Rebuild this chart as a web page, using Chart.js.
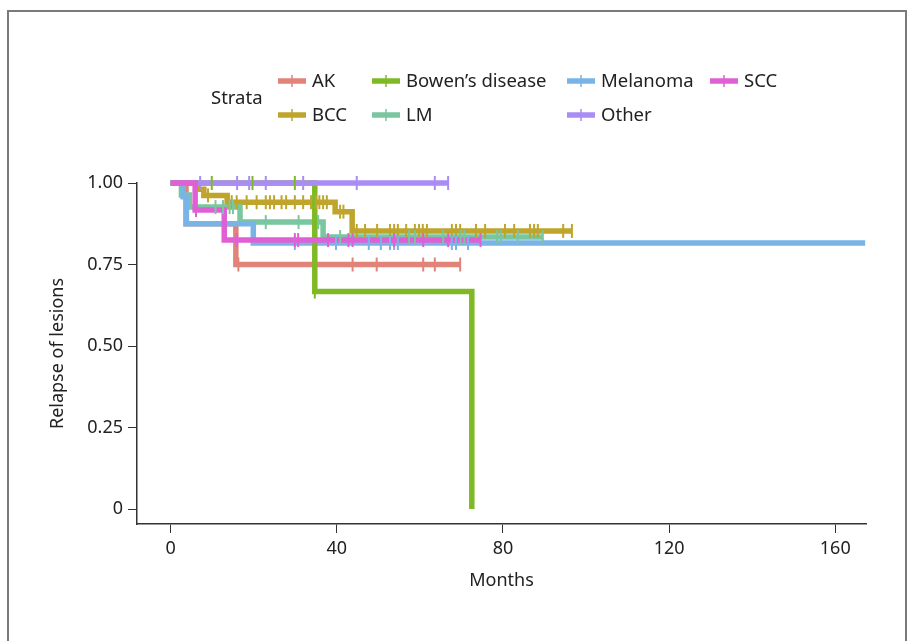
<!DOCTYPE html>
<html>
<head>
<meta charset="utf-8">
<script src="https://cdn.jsdelivr.net/npm/chart.js@4.4.1/dist/chart.umd.min.js"></script>
<style>
  html, body { margin: 0; padding: 0; background: #fff; }
  #wrap { position: relative; width: 912px; height: 641px; }
</style>
</head>
<body>
<div id="wrap"><canvas id="km" width="912" height="641"></canvas></div>
<script>
// strata and their colours
const strata = ["AK", "BCC", "Bowen’s disease", "LM", "Melanoma", "Other", "SCC"];
const colors = ["#E2837A", "#BFA52B", "#7FBA26", "#79C6A0", "#78B4E6", "#A98CF4", "#DF60D4"];

// step curves (time in months, survival after that time)
const akTime = [0, 3.7, 15.7, 69.7];
const akSurv = [1, 0.875, 0.75, 0.75];
const akCens = [16.3, 43.8, 49.6, 60.8, 63.6, 69.7];

const bccTime = [0, 6.5, 8.0, 13.6, 39.6, 43.7, 96.6];
const bccSurv = [1, 0.981, 0.962, 0.941, 0.912, 0.853, 0.853];
const bccCens = [9.0, 14.0, 14.7, 15.9, 18.3, 20.7, 22.9, 23.9, 24.9, 26.7, 27.8, 29.9, 31.9, 33.8, 35.0, 35.8,
                 36.7, 37.6, 40.8, 41.6, 44.8, 46.8, 49.7, 52.8, 53.8, 54.7, 56.7, 58.8, 59.8, 60.7, 61.7,
                 67.7, 68.7, 69.7, 73.5, 75.7, 80.5, 82.7, 86.5, 87.5, 88.4, 94.5, 96.6];

const bowTime = [0, 34.7, 72.5];
const bowSurv = [1, 0.667, 0];
const bowCens = [9.9, 19.7, 29.9, 34.7];

const lmTime = [0, 2.6, 4.5, 16.7, 36.7, 89.6];
const lmSurv = [1, 0.963, 0.926, 0.880, 0.834, 0.834];
const lmCens = [10.8, 12.6, 14.2, 15.0, 22.9, 30.8, 35.5, 40.8, 57.4, 58.8, 65.6, 69.8, 70.7, 78.6, 79.5, 83.6, 89.6];

const melTime = [0, 3.0, 3.8, 19.9, 167.2];
const melSurv = [1, 0.958, 0.875, 0.816, 0.816];
const melCens = [29.9, 39.8, 47.7, 50.6, 52.8, 53.8, 54.7, 67.7, 68.7, 71.6];

const othTime = [0, 66.8];
const othSurv = [1, 1];
const othCens = [7.1, 16.0, 18.9, 22.9, 31.9, 44.8, 63.6, 66.8];

const sccTime = [0, 5.9, 12.9, 74.6];
const sccSurv = [1, 0.917, 0.825, 0.825];
const sccCens = [6.1, 15.9, 29.9, 30.7, 37.9, 42.8, 43.8, 53.8, 60.8, 66.8, 74.6];

// axis ticks
const xTicks = [0, 40, 80, 120, 160];
const yTicks = [0, 0.25, 0.5, 0.75, 1];
const yTickLabels = ["0", "0.25", "0.50", "0.75", "1.00"];

const curves = [
  [akTime, akSurv, akCens],
  [bccTime, bccSurv, bccCens],
  [bowTime, bowSurv, bowCens],
  [lmTime, lmSurv, lmCens],
  [melTime, melSurv, melCens],
  [othTime, othSurv, othCens],
  [sccTime, sccSurv, sccCens],
];

const FONT = "'Noto Sans', 'Open Sans', sans-serif";
const INK = "#222";
const AXIS = "#333";

// survival value at time t (right-continuous step)
function survAt(times, surv, t) {
  let s = surv[0];
  for (let i = 0; i < times.length; i++) {
    if (times[i] <= t + 1e-9) s = surv[i];
  }
  return s;
}

// stacking of the curves (lower = on top): SCC, Other, Bowen's, then the rest
const lineOrder = [16, 15, 12, 14, 13, 11, 10];

const datasets = [];
curves.forEach(([times, surv, cens], i) => {
  datasets.push({
    label: strata[i],
    data: times.map((t, k) => ({ x: t, y: surv[k] })),
    showLine: true,
    stepped: "before",
    borderColor: colors[i],
    borderWidth: 5.5,
    pointRadius: 0,
    clip: 10,
    order: lineOrder[i],
  });
  // censor marks sit above every curve
  datasets.push({
    label: strata[i] + " censored",
    data: cens.map(t => ({ x: t, y: survAt(times, surv, t) })),
    showLine: false,
    pointStyle: "line",
    rotation: 90,
    radius: 7,
    borderWidth: 2,
    borderColor: colors[i],
    backgroundColor: colors[i],
    clip: 10,
    order: lineOrder[i] - 10,
  });
});

// frame round the figure panel
const framePlugin = {
  id: "frame",
  beforeDraw(chart) {
    const ctx = chart.ctx;
    ctx.save();
    ctx.fillStyle = "#fff";
    ctx.fillRect(0, 0, chart.width, chart.height);
    ctx.strokeStyle = "#7a7a7a";
    ctx.lineWidth = 2;
    ctx.strokeRect(8, 11, 898, 700);
    ctx.restore();
  },
};

// legend laid out like ggplot's: "Strata" then two rows, filled by column
const legendSlots = [
  { i: 0, x: 278, y: 81 },
  { i: 1, x: 278, y: 115 },
  { i: 2, x: 372, y: 81 },
  { i: 3, x: 372, y: 115 },
  { i: 4, x: 567, y: 81 },
  { i: 5, x: 567, y: 115 },
  { i: 6, x: 710, y: 81 },
];

const legendPlugin = {
  id: "kmLegend",
  afterDraw(chart) {
    const ctx = chart.ctx;
    ctx.save();
    ctx.font = "18.5px " + FONT;
    ctx.fillStyle = INK;
    ctx.textBaseline = "middle";
    ctx.textAlign = "left";
    ctx.fillText("Strata", 211, 99);
    legendSlots.forEach(s => {
      ctx.strokeStyle = colors[s.i];
      ctx.lineWidth = 5.5;
      ctx.beginPath();
      ctx.moveTo(s.x, s.y);
      ctx.lineTo(s.x + 28, s.y);
      ctx.stroke();
      ctx.lineWidth = 1.5;
      ctx.beginPath();
      ctx.moveTo(s.x + 14, s.y - 6);
      ctx.lineTo(s.x + 14, s.y + 6);
      ctx.stroke();
      ctx.fillStyle = INK;
      ctx.fillText(strata[s.i], s.x + 34, s.y + 1);
    });
    ctx.restore();
  },
};

new Chart(document.getElementById("km"), {
  type: "scatter",
  data: { datasets },
  options: {
    responsive: false,
    animation: false,
    events: [],
    layout: { padding: { top: 183, right: 46, left: 0, bottom: 0 } },
    plugins: {
      legend: { display: false },
      tooltip: { enabled: false },
    },
    scales: {
      x: {
        type: "linear",
        min: -8.1,
        max: 167.4,
        afterBuildTicks: s => { s.ticks = xTicks.map(v => ({ value: v })); },
        afterFit: s => { s.height = 117; },
        grid: { drawOnChartArea: false, drawTicks: true, tickLength: 9, color: AXIS, lineWidth: 1 },
        border: { display: true, color: AXIS, width: 1.5 },
        ticks: { font: { family: FONT, size: 18 }, color: INK, padding: 5, maxRotation: 0 },
        title: { display: true, text: "Months", font: { family: FONT, size: 18 }, color: INK, padding: { top: 0, bottom: 49 } },
      },
      y: {
        type: "linear",
        min: -0.046,
        max: 1,
        afterBuildTicks: s => { s.ticks = yTicks.map(v => ({ value: v })); },
        afterFit: s => { s.width = 137; },
        grid: { drawOnChartArea: false, drawTicks: true, tickLength: 9, color: AXIS, lineWidth: 1 },
        border: { display: true, color: AXIS, width: 1.5 },
        ticks: {
          font: { family: FONT, size: 18 },
          color: INK,
          padding: 5,
          callback: v => yTickLabels[yTicks.indexOf(v)],
        },
        title: { display: true, text: "Relapse of lesions", font: { family: FONT, size: 18 }, color: INK, padding: { top: 47, bottom: 0 } },
      },
    },
  },
  plugins: [framePlugin, legendPlugin],
});
</script>
</body>
</html>
